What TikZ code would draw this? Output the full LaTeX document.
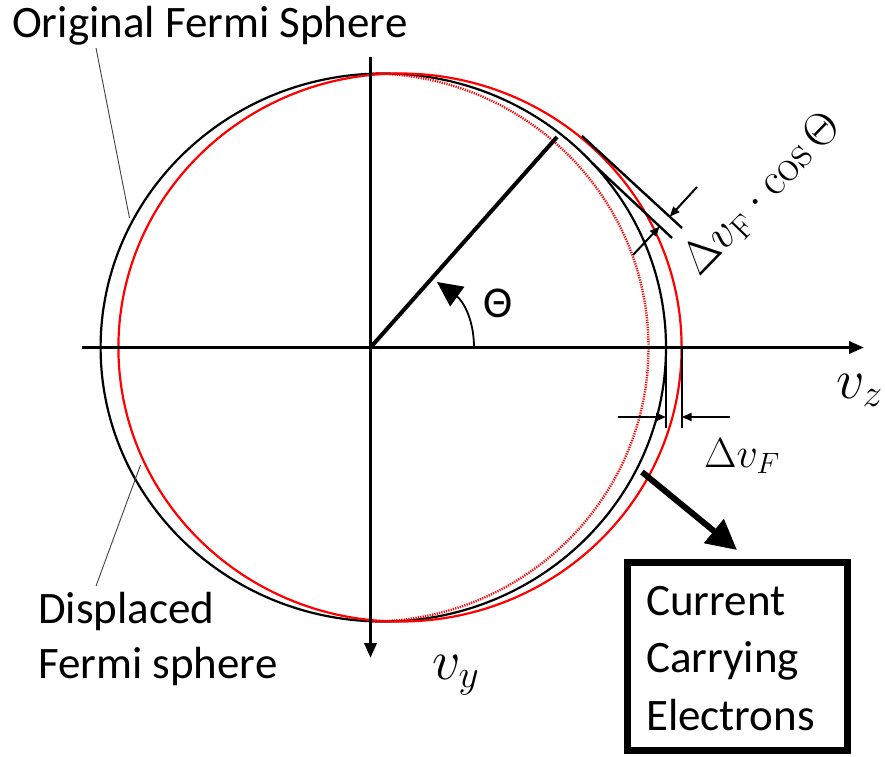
\RequirePackage{fix-cm}
\documentclass[tikz,border=0pt]{standalone}
\usepackage[no-math]{fontspec}
\setmainfont{Carlito}
\usetikzlibrary{arrows.meta,calc}
\begin{document}
\begin{tikzpicture}[x=1pt,y=1pt,
  axisline/.style={line width=3.5pt,-{Triangle[length=15pt,width=12pt]}},
  fermicurve/.style={line width=2.2pt},
  dotline/.style={line width=2.4pt,dash pattern=on 1.2pt off 1.2pt},
  radline/.style={line width=4pt},
  tanline/.style={line width=2.4pt},
  dimarrow/.style={line width=2pt,-{Triangle[length=10pt,width=8pt]}},
  extline/.style={line width=2pt},
  leader/.style={line width=0.9pt,black!75},
  lbl/.style={anchor=base west,inner sep=0pt,align=left,font=\fontsize{45}{55}\selectfont},
  mathlbl/.style={anchor=base west,inner sep=0pt}]
\useasboundingbox (0,0) rectangle (885,-756);

% Fermi spheres
\draw[black,fermicurve] (383.3,-347.5) ellipse [x radius=282.7, y radius=274];
\draw[red,fermicurve] (400,-347.5) ellipse [x radius=281.6, y radius=274];
\draw[red,dotline] (370.5,-73.5) arc[start angle=90,end angle=-90,x radius=278,y radius=274];

% axes
\coordinate (O) at (370.5,-347.5);
\coordinate (xL) at (82,-347.5);
\coordinate (xR) at (864,-347.5);
\coordinate (yT) at (370.5,-57);
\coordinate (yB) at (370.5,-658);
\draw[axisline] (xL) -- (xR);
\draw[axisline] (yT) -- (yB);

% radius and angle
\coordinate (R) at (557,-137);
\draw[radline] (O) -- (R);
\coordinate (a1) at (474,-347.5);
\coordinate (a2) at (437,-282);
\draw[line width=1.8pt,-{Triangle[length=25pt,width=24pt]}] (a1) .. controls (474,-318) and (462,-300) .. (a2);
\node[inner sep=0pt,font=\fontsize{44}{50}\selectfont] (theta) at (498,-303) {Θ};

% tangent lines
\coordinate (T1a) at (582,-136);
\coordinate (T1b) at (682,-228);
\coordinate (T2a) at (592,-163);
\coordinate (T2b) at (672,-238);
\draw[tanline] (T1a) -- (T1b);
\draw[tanline] (T2a) -- (T2b);
\coordinate (A1s) at (697,-187);
\coordinate (A2s) at (633,-255);
\coordinate (A1e) at ($(T1a)!(A1s)!(T1b)$);
\coordinate (A2e) at ($(T2a)!(A2s)!(T2b)$);
\draw[dimarrow] (A1s) -- (A1e);
\draw[dimarrow] (A2s) -- (A2e);
\node[mathlbl,rotate=46,font=\fontsize{46}{50}\selectfont] (dvfcos) at (699,-278) {$\Delta v_{\mathrm{F}}\cdot\cos\Theta$};

% bottom dimension
\coordinate (Bk1) at (666,-347.5);
\coordinate (Bk2) at (666,-428);
\coordinate (Rd1) at (681.7,-347.5);
\coordinate (Rd2) at (681.7,-428);
\draw[extline] (Bk1) -- (Bk2);
\draw[extline] (Rd1) -- (Rd2);
\coordinate (D1s) at (618,-417);
\coordinate (D1e) at (666,-417);
\coordinate (D2s) at (730,-417);
\coordinate (D2e) at (681.7,-417);
\draw[dimarrow] (D1s) -- (D1e);
\draw[dimarrow] (D2s) -- (D2e);
\node[mathlbl,font=\fontsize{42}{46}\selectfont] (dvf) at (704,-467) {$\Delta v_F$};

% axis labels
\node[mathlbl,font=\fontsize{56}{60}\selectfont] (vz) at (836,-398) {$v_z$};
\node[mathlbl,font=\fontsize{56}{60}\selectfont] (vy) at (432,-679) {$v_y$};

% current carrying electrons
\coordinate (C1) at (642,-472);
\coordinate (C2) at (737,-550);
\draw[line width=6pt,-{Triangle[length=30pt,width=30pt]}] (C1) -- (C2);
\draw[line width=7pt] (627,-562) rectangle (847,-750);
\node[anchor=base west,inner sep=0pt,align=left,font=\fontsize{45}{57.5}\selectfont] (cce) at (646,-730) {Current\\Carrying\\Electrons};

% labels with leaders
\node[lbl] (orig) at (12,-37) {Original Fermi Sphere};
\node[lbl] (disp) at (38,-678) {Displaced\\Fermi sphere};
\coordinate (L1a) at (96,-48);
\coordinate (L1b) at (129.5,-218);
\coordinate (L2a) at (140.5,-465);
\coordinate (L2b) at (96,-586);
\draw[leader] (L1a) -- (L1b);
\draw[leader] (L2a) -- (L2b);
\end{tikzpicture}
\end{document}
